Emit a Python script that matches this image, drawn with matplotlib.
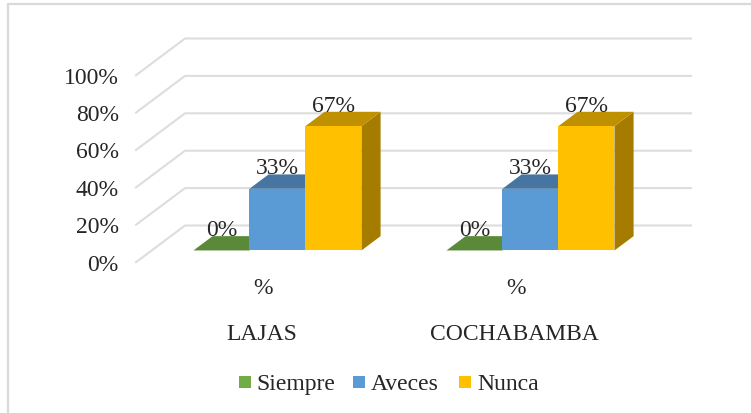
import numpy as np
import matplotlib
matplotlib.use('Agg')
import matplotlib.pyplot as plt
from matplotlib.patches import Polygon, Rectangle

places = ['LAJAS', 'COCHABAMBA']
sub_labels = ['%', '%']
series = ['Siempre', 'Aveces', 'Nunca']
siempre = [0, 0]
aveces = [33, 33]
nunca = [66.5, 66.5]
data_labels = ['0%', '33%', '67%']
y_ticks = [0, 20, 40, 60, 80, 100]

front = ['#70AD47', '#5B9BD5', '#FFC000']
top = ['#5A8A39', '#4675A2', '#BF9000']
side = ['#4F7A32', '#3F6D97', '#A67C00']

W, H = 751, 414
plt.rcParams['font.family'] = 'Liberation Serif'

fig = plt.figure(figsize=(W / 100, H / 100), dpi=100)
ax = fig.add_axes([0, 0, 1, 1])

# one category = 253 px, one percent = 1.87 px, front of floor at (261.8, 263.2)
ax.set_xlim(-261.8 / 253, (W - 261.8) / 253)
ax.set_ylim((263.2 - H) / 1.87, 263.2 / 1.87)
ax.axis('off')

depth_x = 49 / 253     # oblique offset of the whole floor depth
depth_y = 36.7 / 1.87
bar_w = 56 / 253
d0, d1 = 0.32, 0.71    # where the bars sit in the depth


def proj(x, y, d):
    return (x + d * depth_x, y + d * depth_y)


def draw_bar(x, h, i):
    x0, x1 = x, x + bar_w
    ax.add_patch(Polygon([proj(x1, 0, d0), proj(x1, 0, d1), proj(x1, h, d1), proj(x1, h, d0)],
                         color=side[i], lw=0, zorder=3))
    ax.add_patch(Polygon([proj(x0, h, d0), proj(x1, h, d0), proj(x1, h, d1), proj(x0, h, d1)],
                         color=top[i], lw=0, zorder=3 + i))
    ax.add_patch(Polygon([proj(x0, 0, d0), proj(x1, 0, d0), proj(x1, h, d0), proj(x0, h, d0)],
                         color=front[i], lw=0, zorder=4 + i))


# grid: side wall and back wall
right_end = (691 - 261.8) / 253 - depth_x
for t in y_ticks:
    xs = [proj(-125.8 / 253, t, 0)[0], proj(-125.8 / 253, t, 1)[0], proj(right_end, t, 1)[0]]
    ys = [t, t + depth_y, t + depth_y]
    ax.plot(xs, ys, color='#DDDDDD', lw=1.5, zorder=1)
    ax.text(-143 / 253, t - 2 / 1.87, f'{t}%', ha='right', va='center', fontsize=17, color='#262626')

# bars
for k in range(len(places)):
    vals = [siempre[k], aveces[k], nunca[k]]
    for i, v in enumerate(vals):
        x = k + (i - 1.5) * bar_w
        draw_bar(x, v, i)
        cx = proj(x + bar_w / 2, v, d0)[0]
        cy = proj(x + bar_w / 2, v, d1)[1]
        ax.text(cx, cy - 2, data_labels[i], ha='center', va='bottom', fontsize=17,
                color='#262626', zorder=10)
    ax.text(k + 1 / 253, (263.2 - 289) / 1.87, sub_labels[k], ha='center', va='center', fontsize=17, color='#262626')
    ax.text(k, (263.2 - 334) / 1.87, places[k], ha='center', va='center', fontsize=17, color='#262626')

# legend, placed by hand like the original
leg_x = [239, 353, 459]
leg_text_x = [256, 371, 477]
for px, tx, name, c in zip(leg_x, leg_text_x, series, front):
    ax.add_patch(Rectangle(((px - 261.8) / 253, (263.2 - 389) / 1.87), 12 / 253, 12 / 1.87, color=c, lw=0))
    ax.text((tx - 261.8) / 253, (263.2 - 384.5) / 1.87, name, ha='left', va='center',
            fontsize=17, color='#262626')

# chart frame
frame_x = [(8 - 261.8) / 253, (8 - 261.8) / 253, (W - 261.8) / 253]
frame_y = [(263.2 - H) / 1.87, (263.2 - 5) / 1.87, (263.2 - 5) / 1.87]
ax.plot(frame_x, frame_y, color='#D9D9D9', lw=1.6, zorder=0)

fig.savefig('out.png', dpi=100)
